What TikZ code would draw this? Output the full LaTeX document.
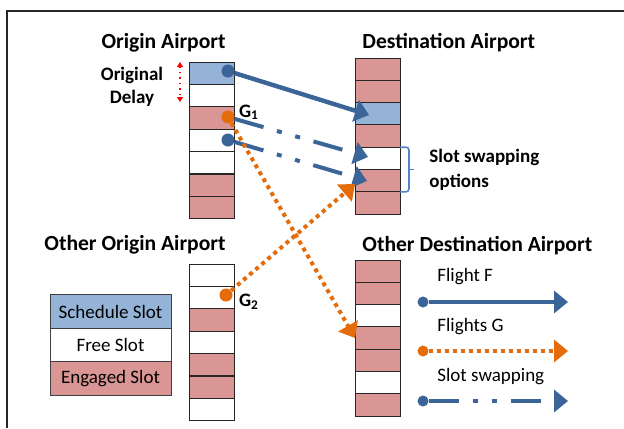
\documentclass[tikz,border=0pt]{standalone}
\usepackage{fontspec}
\setmainfont{Carlito}
\usepackage{tikz}
\usetikzlibrary{arrows.meta}

\definecolor{flightblue}{RGB}{59,100,153}
\definecolor{schedblue}{RGB}{149,179,215}
\definecolor{engred}{RGB}{217,150,148}
\definecolor{gorange}{RGB}{228,108,10}
\definecolor{braceblue}{RGB}{84,130,196}

\begin{document}
\begin{tikzpicture}[x=0.5pt, y=-0.5pt,
    cell/.style = {draw=black!85, line width=0.5pt, minimum width=22.5pt, minimum height=11.15pt, inner sep=0pt, outer sep=0pt},
    sched/.style = {cell, fill=schedblue},
    freeslot/.style = {cell, fill=white},
    engaged/.style = {cell, fill=engred},
    title/.style = {font=\fontsize{10.8}{13}\selectfont\bfseries, inner sep=0pt},
    txt/.style = {font=\fontsize{9.5}{11.5}\selectfont, inner sep=0pt},
    btxt/.style = {font=\fontsize{9.5}{11.5}\selectfont\bfseries, inner sep=0pt},
    legbox/.style = {minimum width=60.5pt, minimum height=16.7pt, draw=black!75, font=\fontsize{9.5}{11.5}\selectfont},
    endpt/.style = {circle, inner sep=0pt, minimum size=6.5pt},
    tip/.style = {-{Triangle[length=7pt,width=11pt]}},
    flightF/.style = {tip, line width=2.2pt, flightblue},
    flightG/.style = {tip, line width=2pt, gorange, dash pattern=on 2pt off 2pt},
    swap/.style = {tip, line width=2pt, flightblue, dash pattern=on 15pt off 7pt on 2.5pt off 7pt on 2.5pt off 7pt}]

    \useasboundingbox (0,0) rectangle (624,428);
    \draw[line width=1pt, black!85] (7,428) -- (7,11) -- (624,11);

    % slot columns
    \foreach \c [count=\i] in {sched,freeslot,engaged,freeslot,freeslot,engaged,engaged}
        \node[\c] (o\i) at (211.5, {62+(\i-0.5)*22.4}) {};
    \foreach \c [count=\i] in {engaged,engaged,sched,engaged,freeslot,engaged,engaged}
        \node[\c] (d\i) at (377.5, {58+(\i-0.5)*22.3}) {};
    \foreach \c [count=\i] in {freeslot,freeslot,engaged,freeslot,engaged,engaged,freeslot}
        \node[\c] (oo\i) at (211.5, {264+(\i-0.5)*22.4}) {};
    \foreach \c [count=\i] in {engaged,engaged,freeslot,engaged,engaged,freeslot,engaged}
        \node[\c] (od\i) at (377.5, {260+(\i-0.5)*22.3}) {};

    % titles
    \node[title, anchor=east] (torig) at (226,43) {Origin Airport};
    \node[title, anchor=west] (tdest) at (362,43) {Destination Airport};
    \node[title, anchor=east] (toorig) at (226,245) {Other Origin Airport};
    \node[title, anchor=west] (todest) at (362,246) {Other Destination Airport};

    % original delay
    \node[btxt, align=center] (delay) at (132,87) {Original\\Delay};
    \coordinate (dl1) at (180,62);
    \coordinate (dl2) at (180,102);
    \draw[red, line width=0.7pt, dotted, {Triangle[length=2.5pt,width=3pt]}-{Triangle[length=2.5pt,width=3pt]}] (dl1) -- (dl2);

    % flights
    \node[endpt, fill=flightblue] (f) at (228,71) {};
    \node[endpt, fill=gorange] (g1) at (228,117) {};
    \node[endpt, fill=flightblue] (s) at (228,140) {};
    \node[endpt, fill=gorange] (g2) at (226,295) {};
    \node[btxt] (lg1) at (249,112) {G\textsubscript{1}};
    \node[btxt] (lg2) at (249,302) {G\textsubscript{2}};

    \coordinate (tF) at (369,115);
    \coordinate (tS1) at (368,157);
    \coordinate (tS2) at (367,181);
    \coordinate (tG2) at (355,184);
    \coordinate (tG1) at (355,338);

    \draw[flightF] (f) -- (tF);
    \draw[swap] (g1) -- (tS1);
    \draw[swap] (s) -- (tS2);
    \draw[flightG] (g1) -- (tG1);
    \draw[flightG] (g2) -- (tG2);

    % slot swapping options
    \draw[braceblue, line width=0.8pt, rounded corners=1.5pt] (d5.north east) -- ++(9,0) -- ++(0,44.6) -- (d6.south east);
    \draw[braceblue, line width=0.8pt] (d5.south east) ++(9,0) -- ++(5,0);
    \node[btxt, anchor=west, align=left] (opts) at (429,170) {Slot swapping\\[1pt]options};

    % legend
    \node[legbox, fill=schedblue] (lsched) at (110.5,311.5) {Schedule Slot};
    \node[legbox, fill=white] (lfree) at (110.5,345) {Free Slot};
    \node[legbox, fill=engred] (leng) at (110.5,378.5) {Engaged Slot};

    \node[txt, anchor=west] (lfF) at (437,277) {Flight F};
    \node[txt, anchor=west] (lfG) at (437,327) {Flights G};
    \node[txt, anchor=west] (lfS) at (437,377) {Slot swapping};
    \node[endpt, minimum size=5.5pt, fill=flightblue] (ef) at (423,302) {};
    \node[endpt, minimum size=5.5pt, fill=gorange] (eg) at (423,351) {};
    \node[endpt, minimum size=5.5pt, fill=flightblue] (es) at (423,401) {};
    \coordinate (af) at (568,302);
    \coordinate (ag) at (568,351);
    \coordinate (as) at (568,401);
    \draw[flightF] (ef) -- (af);
    \draw[flightG] (eg) -- (ag);
    \draw[swap] (es) -- (as);
\end{tikzpicture}
\end{document}
